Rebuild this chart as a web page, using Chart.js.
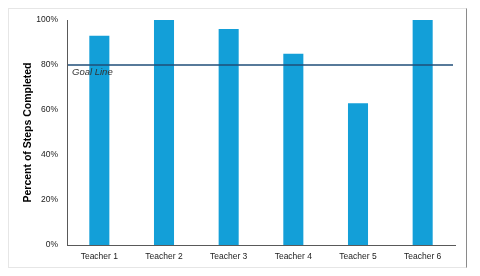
<!DOCTYPE html>
<html><head><meta charset="utf-8">
<script src="https://cdn.jsdelivr.net/npm/chart.js@4"></script>
<style>
html,body{margin:0;padding:0;background:#fff;}
#wrap{position:relative;width:480px;height:276px;}
#frame{position:absolute;left:8px;top:8px;width:459px;height:260px;border:1px solid #e6e6e6;border-right:1px solid #8a8a8a;box-sizing:border-box;}
canvas{position:absolute;left:0;top:0;}
</style></head><body>
<div id="wrap"><div id="frame"></div><canvas id="c" width="480" height="276"></canvas></div>
<script>
const categories = ["Teacher 1","Teacher 2","Teacher 3","Teacher 4","Teacher 5","Teacher 6"];
const percentCompleted = [93, 100, 96, 85, 63, 100];
const goalValue = 80;
const goalLabel = "Goal Line";
const yTitle = "Percent of Steps Completed";

const goalPlugin = {
  id: 'goal',
  afterDatasetsDraw(chart) {
    const {ctx, chartArea, scales} = chart;
    const y = scales.y.getPixelForValue(goalValue);
    ctx.save();
    ctx.strokeStyle = '#1f4e79';
    ctx.lineWidth = 1.6;
    ctx.beginPath();
    ctx.moveTo(chartArea.left + 1, y);
    ctx.lineTo(chartArea.right - 2, y);
    ctx.stroke();
    ctx.fillStyle = '#333';
    ctx.font = 'italic 9.5px "Liberation Sans", Arial, sans-serif';
    ctx.textBaseline = 'top';
    ctx.fillText(goalLabel, chartArea.left + 5, y + 3);
    ctx.restore();
  }
};

new Chart(document.getElementById('c'), {
  type: 'bar',
  data: {
    labels: categories,
    datasets: [{
      data: percentCompleted,
      backgroundColor: '#139fd8',
      categoryPercentage: 1,
      barPercentage: 0.31
    }]
  },
  options: {
    responsive: false,
    animation: false,
    devicePixelRatio: 1,
    layout: { padding: { left: 22, right: 25, top: 20, bottom: 8 } },
    plugins: { legend: { display: false }, tooltip: { enabled: false } },
    scales: {
      x: {
        grid: { display: false, drawTicks: false },
        border: { color: '#595959', width: 1 },
        ticks: { color: '#222', font: { family: '"Liberation Sans", Arial, sans-serif', size: 8.5 }, padding: 7, maxRotation: 0 },
        afterFit(s) { s.height = 23; }
      },
      y: {
        min: 0, max: 100,
        ticks: { stepSize: 20, callback: v => v + '%', color: '#222', font: { family: '"Liberation Sans", Arial, sans-serif', size: 8.5 }, padding: 9 },
        grid: { display: false, drawTicks: false },
        border: { color: '#595959', width: 1 },
        title: { display: true, text: yTitle, color: '#000', font: { family: '"Liberation Sans", Arial, sans-serif', size: 10.5, weight: 'bold' }, padding: { top: 0, bottom: 4 } },
        afterFit(s) { s.width = 45; }
      }
    }
  },
  plugins: [goalPlugin]
});
</script>
</body></html>
